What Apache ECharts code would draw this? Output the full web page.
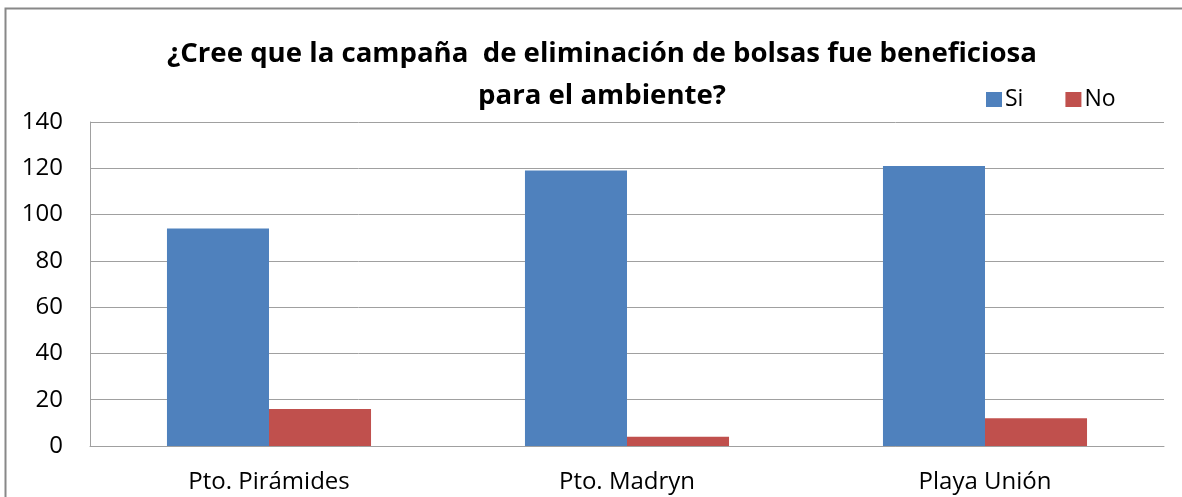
<!DOCTYPE html>
<html>
<head>
<meta charset="utf-8">
<script src="https://cdn.jsdelivr.net/npm/echarts@6/dist/echarts.min.js"></script>
<style>
  html, body { margin: 0; padding: 0; background: #fff; }
  #main { width: 1182px; height: 497px; }
</style>
</head>
<body>
<div id="main"></div>
<script>
// datos
var categorias = ['Pto. Pirámides', 'Pto. Madryn', 'Playa Unión'];
var si = [94, 119, 121];
var no = [16, 4, 12];

var myChart = echarts.init(document.getElementById('main'));
var fuente = 'Open Sans';

var option = {
    animation: false,
    color: ['#4F81BD', '#C0504D'],
    title: {
        text: '¿Cree que la campaña  de eliminación de bolsas fue beneficiosa\npara el ambiente?',
        left: 597,
        top: 28,
        textAlign: 'center',
        textStyle: {
            fontFamily: fuente,
            fontWeight: 'bold',
            fontSize: 27.6,
            lineHeight: 42,
            color: '#000'
        }
    },
    legend: {
        left: 947,
        top: 82,
        padding: [6, 30, 8, 39],
        backgroundColor: '#fff',
        itemWidth: 16,
        itemHeight: 15,
        itemGap: 42,
        icon: 'rect',
        textStyle: { fontFamily: fuente, fontSize: 23, color: '#000', padding: [0, 0, 0, -2] },
        data: ['Si', 'No']
    },
    grid: { left: 90, right: 18, top: 122, bottom: 51 },
    xAxis: {
        type: 'category',
        data: categorias,
        axisLine: { lineStyle: { color: '#a0a0a0', width: 1 } },
        axisTick: { show: false },
        axisLabel: { fontFamily: fuente, fontSize: 24, color: '#000', margin: 24 }
    },
    yAxis: {
        type: 'value',
        min: 0,
        max: 140,
        interval: 20,
        axisLine: { show: true, lineStyle: { color: '#a0a0a0', width: 1 } },
        axisTick: { show: false },
        splitLine: { lineStyle: { color: '#a0a0a0', width: 1 } },
        axisLabel: { fontFamily: fuente, fontSize: 24, color: '#000', margin: 27 }
    },
    series: [
        { name: 'Si', type: 'bar', data: si, barGap: '0%', barCategoryGap: '43%' },
        { name: 'No', type: 'bar', data: no, barGap: '0%', barCategoryGap: '43%' }
    ],
    graphic: [
        {
            type: 'polyline',
            shape: { points: [[5.5, 497], [5.5, 8.5], [1182, 8.5]] },
            style: { stroke: '#888', lineWidth: 2, fill: null }
        }
    ]
};

myChart.setOption(option, true);
</script>
</body>
</html>
